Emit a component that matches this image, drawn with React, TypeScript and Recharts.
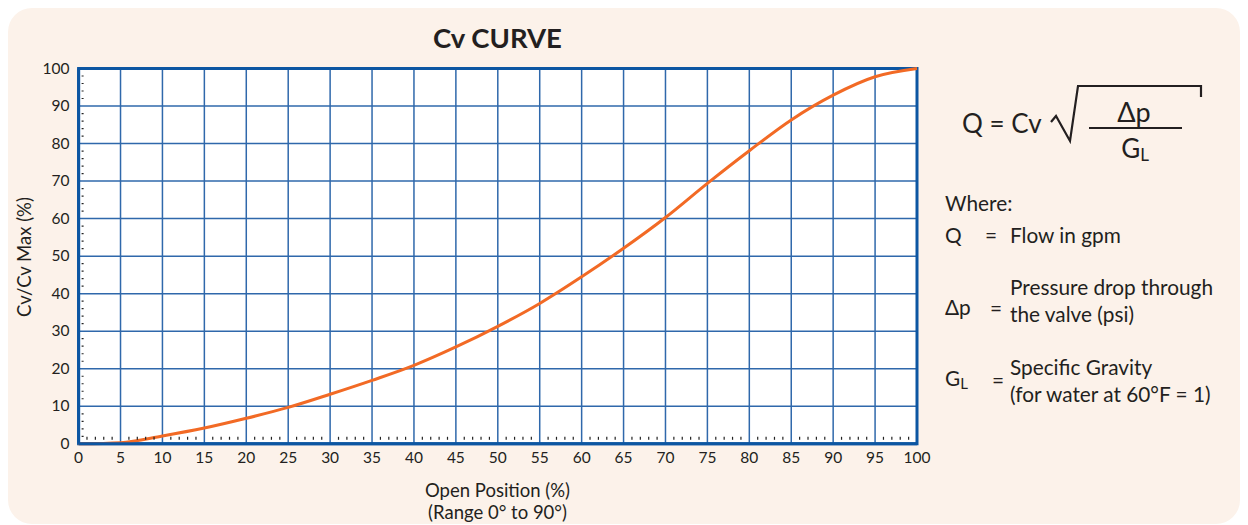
import React from "react";
import { CartesianGrid, Line, LineChart, ReferenceArea, XAxis, YAxis } from "recharts";

// Cv curve (percent open vs percent of max Cv)
const openPct = [0, 5, 10, 15, 20, 25, 30, 35, 40, 45, 50, 55, 60, 65, 70, 75, 80, 85, 90, 95, 100];
const cvPct = [0, 0.3, 2.1, 4.2, 6.8, 9.7, 13.2, 16.9, 20.9, 25.8, 31.3, 37.4, 44.5, 52.1, 60.3, 69.4, 78.1, 86.3, 92.9, 97.8, 100];

const xMajor = [0, 5, 10, 15, 20, 25, 30, 35, 40, 45, 50, 55, 60, 65, 70, 75, 80, 85, 90, 95, 100];
const yMajor = [0, 10, 20, 30, 40, 50, 60, 70, 80, 90, 100];
// minor ticks: every 1 on x, every 2 on y
const xTicks = Array.from({ length: 101 }, (_, i) => i);
const yTicks = Array.from({ length: 51 }, (_, i) => i * 2);

const data = openPct.map((x, i) => ({ open: x, cv: cvPct[i] }));

const INK = "#231f20";
const BORDER = "#0c56a2";
const GRID = "#2f68ab";
const CURVE = "#f26a25";
const CARD = "#fcf2ea";
const FONT = "Lato, 'Open Sans', sans-serif";

function XTick({ x, y, payload }: any) {
  const v = payload.value;
  if (v % 5 === 0) {
    return (
      <text x={x} y={y + 19} textAnchor="middle" fontSize={15.5} fontFamily={FONT} fill={INK}>
        {v}
      </text>
    );
  }
  return <line x1={x} x2={x} y1={y - 7} y2={y - 4} stroke="#222" strokeWidth={1.2} />;
}

function YTick({ x, y, payload }: any) {
  const v = payload.value;
  if (v % 10 === 0) {
    return (
      <text x={x - 9} y={y + 5} textAnchor="end" fontSize={15.5} fontFamily={FONT} fill={INK}>
        {v}
      </text>
    );
  }
  return <line x1={x + 3} x2={x + 5} y1={y} y2={y} stroke="#222" strokeWidth={1.2} />;
}

function T({ left, cy, size = 20.8, children, style }: any) {
  return (
    <div
      style={{
        position: "absolute",
        left,
        top: cy - size * 0.7,
        fontSize: size,
        lineHeight: `${size * 1.4}px`,
        whiteSpace: "nowrap",
        ...style,
      }}
    >
      {children}
    </div>
  );
}

export default function App() {
  return (
    <div
      style={{
        position: "relative",
        width: 1232,
        height: 516,
        background: CARD,
        borderRadius: 24,
        fontFamily: FONT,
        color: INK,
        overflow: "hidden",
      }}
    >
      <div
        style={{
          position: "absolute",
          left: 489.5 - 100,
          width: 200,
          top: 30 - 19,
          textAlign: "center",
          fontSize: 27.5,
          fontWeight: 700,
          lineHeight: "38px",
        }}
      >
        Cv CURVE
      </div>

      <div style={{ position: "absolute", left: 0, top: 0 }}>
        <LineChart width={940} height={516} data={data} margin={{ top: 60.5, right: 31, bottom: 0, left: 0 }}>
          <CartesianGrid
            fill="#ffffff"
            stroke={GRID}
            strokeWidth={1.5}
            horizontalValues={yMajor}
            verticalValues={xMajor}
          />
          <XAxis
            type="number"
            dataKey="open"
            domain={[0, 100]}
            ticks={xTicks}
            interval={0}
            tick={<XTick />}
            tickLine={false}
            tickSize={0}
            tickMargin={0}
            height={80.2}
            axisLine={{ stroke: BORDER, strokeWidth: 3 }}
          />
          <YAxis
            type="number"
            domain={[0, 100]}
            ticks={yTicks}
            interval={0}
            tick={<YTick />}
            tickLine={false}
            tickSize={0}
            tickMargin={0}
            width={70.6}
            axisLine={{ stroke: BORDER, strokeWidth: 3 }}
          />
          <ReferenceArea x1={0} x2={100} y1={0} y2={100} fill="none" stroke={BORDER} strokeWidth={3} ifOverflow="visible" />
          <Line type="monotone" dataKey="cv" stroke={CURVE} strokeWidth={3} dot={false} isAnimationActive={false} />
        </LineChart>
      </div>

      {/* axis titles */}
      <div
        style={{
          position: "absolute",
          left: 16 - 90,
          top: 249 - 12,
          width: 180,
          textAlign: "center",
          fontSize: 18.5,
          lineHeight: "24px",
          transform: "rotate(-90deg)",
        }}
      >
        Cv/Cv Max (%)
      </div>
      <div style={{ position: "absolute", left: 489.5 - 120, width: 240, top: 482 - 12, textAlign: "center", fontSize: 18.5, lineHeight: "24px" }}>
        Open Position (%)
      </div>
      <div style={{ position: "absolute", left: 489.5 - 120, width: 240, top: 504 - 12, textAlign: "center", fontSize: 18.5, lineHeight: "24px" }}>
        (Range 0° to 90°)
      </div>

      {/* formula */}
      <T left={954} cy={115} size={26}>
        Q = Cv
      </T>
      <svg style={{ position: "absolute", left: 0, top: 0, overflow: "visible" }} width={1232} height={516}>
        <polyline
          points="1043,114 1048,108 1062,133 1070,78 1193,78 1193,89"
          fill="none"
          stroke={INK}
          strokeWidth={2.2}
          strokeLinejoin="miter"
        />
        <line x1={1081} x2={1174} y1={120} y2={120} stroke={INK} strokeWidth={2.2} />
      </svg>
      <div style={{ position: "absolute", left: 1126 - 40, width: 80, top: 104 - 18, textAlign: "center", fontSize: 27, lineHeight: "36px" }}>
        Δp
      </div>
      <div style={{ position: "absolute", left: 1127 - 40, width: 80, top: 140 - 18, textAlign: "center", fontSize: 26, lineHeight: "36px" }}>
        G<sub style={{ fontSize: 17, verticalAlign: "-3px" }}>L</sub>
      </div>

      {/* legend */}
      <T left={937} cy={194.7}>Where:</T>
      <T left={937} cy={227}>Q</T>
      <T left={977} cy={227}>=</T>
      <T left={1002} cy={227}>Flow in gpm</T>

      <T left={937} cy={298.7}>Δp</T>
      <T left={982} cy={300}>=</T>
      <T left={1002} cy={279}>Pressure drop through</T>
      <T left={1002} cy={306}>the valve (psi)</T>

      <T left={937} cy={370}>
        G<sub style={{ fontSize: 15, verticalAlign: "-3px" }}>L</sub>
      </T>
      <T left={984} cy={372}>=</T>
      <T left={1002} cy={359}>Specific Gravity</T>
      <T left={1002} cy={386}>(for water at 60°F = 1)</T>
    </div>
  );
}
